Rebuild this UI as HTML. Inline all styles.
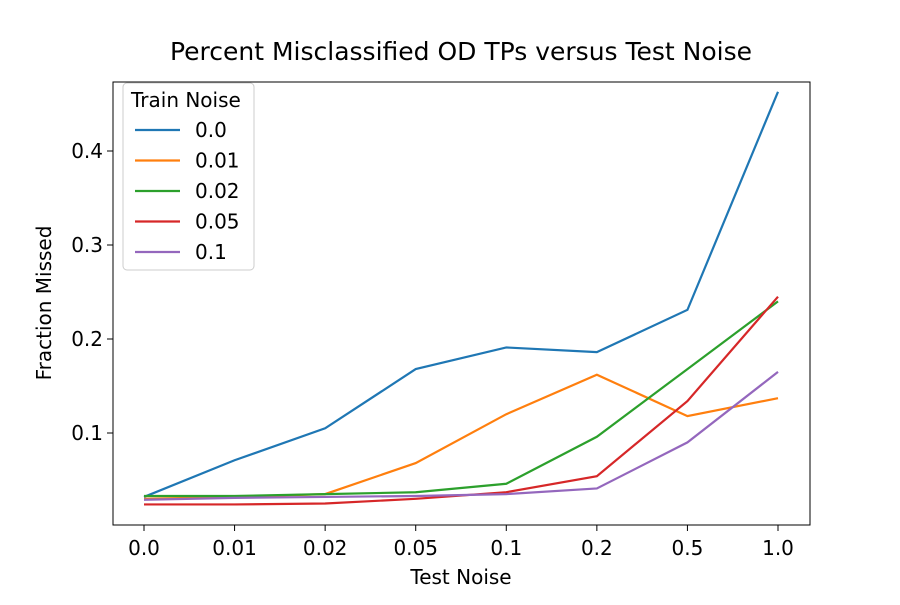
<!DOCTYPE html>
<html><head><meta charset="utf-8"><style>
body{margin:0;background:#fff;}
svg text{font-family:"DejaVu Sans","Liberation Sans",sans-serif;fill:#000;}
</style></head><body>
<svg id="chart" width="900" height="600" xmlns="http://www.w3.org/2000/svg">
<rect width="900" height="600" fill="#fff"/>
<text x="461" y="60" font-size="25" text-anchor="middle">Percent Misclassified OD TPs versus Test Noise</text>
<g id="marks"></g>
<rect x="113" y="82" width="697" height="443" fill="none" stroke="#000" stroke-width="1"/>
<g id="ticks"></g>
<text x="461" y="584" font-size="20" text-anchor="middle">Test Noise</text>
<text transform="translate(51,303) rotate(-90)" font-size="20" text-anchor="middle">Fraction Missed</text>
<g id="legend">
<rect x="123" y="83" width="131" height="187" rx="4" fill="#fff" fill-opacity="0.8" stroke="#ccc"/>
<text x="131" y="107" font-size="20">Train Noise</text>
</g>
</svg>
<script>
const categories=["0.0","0.01","0.02","0.05","0.1","0.2","0.5","1.0"];
const seriesNames=["0.0","0.01","0.02","0.05","0.1"];
const colors=["#1f77b4","#ff7f0e","#2ca02c","#d62728","#9467bd"];
const s00=[0.032,0.071,0.105,0.168,0.191,0.186,0.231,0.463];
const s001=[0.030,0.032,0.035,0.068,0.120,0.162,0.118,0.137];
const s002=[0.033,0.033,0.035,0.037,0.046,0.096,0.168,0.240];
const s005=[0.024,0.024,0.025,0.030,0.037,0.054,0.134,0.245];
const s01=[0.029,0.031,0.032,0.033,0.035,0.041,0.090,0.165];
const yTicks=[0.1,0.2,0.3,0.4];
const allSeries=[s00,s001,s002,s005,s01];
const NS="http://www.w3.org/2000/svg";
function xS(i){return 144+i*(778-144)/(categories.length-1);}
function yS(v){return 527-v*940;}
const marks=document.getElementById('marks');
allSeries.forEach((s,k)=>{
  const p=document.createElementNS(NS,'polyline');
  p.setAttribute('points',s.map((v,i)=>xS(i)+','+yS(v)).join(' '));
  p.setAttribute('fill','none');p.setAttribute('stroke',colors[k]);p.setAttribute('stroke-width','2.2');
  
  
  marks.appendChild(p);
});
const ticks=document.getElementById('ticks');
categories.forEach((c,i)=>{
  const l=document.createElementNS(NS,'line');
  l.setAttribute('x1',xS(i));l.setAttribute('x2',xS(i));l.setAttribute('y1',525);l.setAttribute('y2',531);l.setAttribute('stroke','#000');
  
  
  ticks.appendChild(l);
  const t=document.createElementNS(NS,'text');
  t.setAttribute('x',xS(i));t.setAttribute('y',555);t.setAttribute('font-size','20');t.setAttribute('text-anchor','middle');
  t.textContent=c;
  
  
  ticks.appendChild(t);
});
yTicks.forEach(v=>{
  const l=document.createElementNS(NS,'line');
  l.setAttribute('x1',107);l.setAttribute('x2',113);l.setAttribute('y1',yS(v));l.setAttribute('y2',yS(v));l.setAttribute('stroke','#000');
  
  
  ticks.appendChild(l);
  const t=document.createElementNS(NS,'text');
  t.setAttribute('x',103);t.setAttribute('y',yS(v)+7);t.setAttribute('font-size','20');t.setAttribute('text-anchor','end');
  t.textContent=v.toFixed(1);
  
  
  ticks.appendChild(t);
});
const lg=document.getElementById('legend');
seriesNames.forEach((n,k)=>{
  const y=130+k*30.5;
  const g=document.createElementNS(NS,'g');
  
  
  const l=document.createElementNS(NS,'line');
  l.setAttribute('x1',135);l.setAttribute('x2',180);l.setAttribute('y1',y);l.setAttribute('y2',y);l.setAttribute('stroke',colors[k]);l.setAttribute('stroke-width','2.2');
  g.appendChild(l);
  const t=document.createElementNS(NS,'text');
  t.setAttribute('x',195);t.setAttribute('y',y+7);t.setAttribute('font-size','20');t.textContent=n;
  g.appendChild(t);
  lg.appendChild(g);
});
</script>
</body></html>
